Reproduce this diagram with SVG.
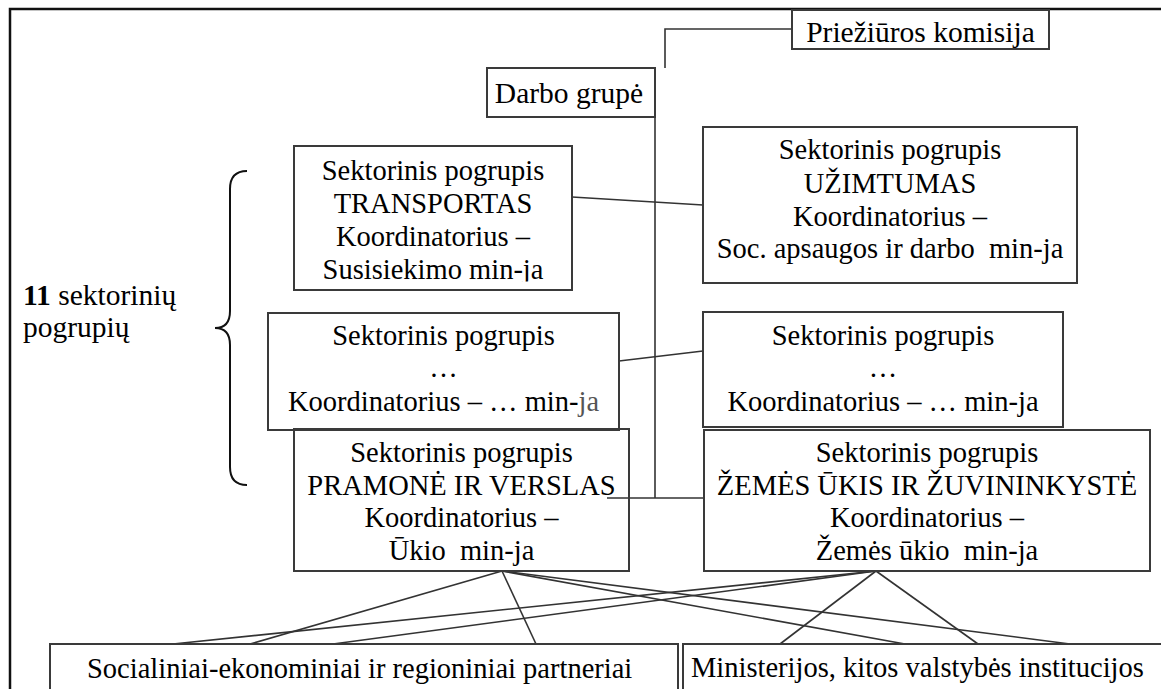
<svg xmlns="http://www.w3.org/2000/svg" width="1161" height="689" viewBox="0 0 1161 689">
<style>
.bx{fill:none;stroke:#3a3a3a;stroke-width:2}
.ln{fill:none;stroke:#333;stroke-width:1.6}
.t{font-family:"Liberation Serif","Times New Roman",serif;font-size:28.5px;fill:#000}
.big{font-size:29.5px}
.c{text-anchor:middle}
</style>
<defs>
<clipPath id="clipT"><rect x="294" y="146" width="278" height="135.5"/></clipPath>
</defs>
<rect width="1161" height="689" fill="#fff"/>
<path d="M10,689 V9 H1161" fill="none" stroke="#111" stroke-width="2.5"/>
<g id="connectors">
<polyline class="ln" points="792,29 665,29 665,68"/>
<polyline class="ln" points="655,117 655,498"/>
<line class="ln" x1="607" y1="498" x2="704" y2="498"/>
<line class="ln" x1="572" y1="197" x2="703" y2="205"/>
<line class="ln" x1="619" y1="361" x2="703" y2="351"/>
<line class="ln" x1="502" y1="571" x2="250" y2="644"/>
<line class="ln" x1="502" y1="571" x2="536" y2="644"/>
<line class="ln" x1="502" y1="571" x2="905" y2="644"/>
<line class="ln" x1="502" y1="571" x2="1070" y2="644"/>
<line class="ln" x1="876" y1="571" x2="173" y2="644"/>
<line class="ln" x1="876" y1="571" x2="333" y2="644"/>
<line class="ln" x1="876" y1="571" x2="780" y2="644"/>
<line class="ln" x1="876" y1="571" x2="978" y2="644"/>
</g>
<g id="prieziuros">
<rect class="bx" x="792" y="10" width="257" height="39"/>
<text class="t big c" x="920.5" y="42">Priežiūros komisija</text>
</g>
<g id="darbo">
<rect class="bx" x="487" y="68" width="168" height="49"/>
<text class="t big c" x="569" y="103">Darbo grupė</text>
</g>
<g id="label">
<text class="t big" x="23" y="305"><tspan font-weight="bold">11</tspan> sektorinių</text>
<text class="t big" x="23" y="337">pogrupių</text>
<path d="M247,171 C236,171 230,177 230,189 L230,311 C230,322 225,328 215,328 C225,328 230,334 230,345 L230,467 C230,479 236,485 247,485" fill="none" stroke="#111" stroke-width="2"/>
</g>
<g id="transportas">
<rect class="bx" x="294" y="146" width="278" height="144"/>
<text class="t c" x="433" y="180">Sektorinis pogrupis</text>
<text class="t c" x="433" y="213">TRANSPORTAS</text>
<text class="t c" x="433" y="246">Koordinatorius –</text>
<text class="t c" x="433" y="279" clip-path="url(#clipT)">Susisiekimo min-ja</text>
</g>
<g id="uzimtumas">
<rect class="bx" x="703" y="127" width="374" height="156"/>
<text class="t c" x="890" y="159">Sektorinis pogrupis</text>
<text class="t c" x="890" y="193">UŽIMTUMAS</text>
<text class="t c" x="890" y="226">Koordinatorius –</text>
<text class="t c" x="890" y="258" xml:space="preserve">Soc. apsaugos ir darbo  min-ja</text>
</g>
<g id="kitas-kairys">
<rect class="bx" x="268" y="313" width="351" height="117"/>
<text class="t c" x="443.5" y="345">Sektorinis pogrupis</text>
<text class="t c" x="443.5" y="377">…</text>
<text class="t c" x="443.5" y="411">Koordinatorius – … min-<tspan fill="#555">ja</tspan></text>
</g>
<g id="kitas-desinys">
<rect class="bx" x="703" y="312" width="360" height="115"/>
<text class="t c" x="883" y="345">Sektorinis pogrupis</text>
<text class="t c" x="883" y="377">…</text>
<text class="t c" x="883" y="411">Koordinatorius – … min-ja</text>
</g>
<g id="pramone">
<rect class="bx" x="294" y="429" width="335" height="142"/>
<text class="t c" x="461.5" y="462">Sektorinis pogrupis</text>
<text class="t c" x="461.5" y="494.5">PRAMONĖ IR VERSLAS</text>
<text class="t c" x="461.5" y="527">Koordinatorius –</text>
<text class="t c" x="461.5" y="559.5" xml:space="preserve">Ūkio  min-ja</text>
</g>
<g id="zemes-ukis">
<rect class="bx" x="704" y="430" width="446" height="141"/>
<text class="t c" x="927" y="462">Sektorinis pogrupis</text>
<text class="t c" x="927" y="494.5">ŽEMĖS ŪKIS IR ŽUVININKYSTĖ</text>
<text class="t c" x="927" y="527">Koordinatorius –</text>
<text class="t c" x="927" y="559.5" xml:space="preserve">Žemės ūkio  min-ja</text>
</g>
<g id="partneriai">
<rect class="bx" x="50" y="644" width="628" height="60"/>
<text class="t" x="87" y="678">Socialiniai-ekonominiai ir regioniniai partneriai</text>
</g>
<g id="ministerijos">
<rect class="bx" x="683" y="644" width="500" height="60"/>
<text class="t" x="691" y="677">Ministerijos, kitos valstybės institucijos</text>
</g>
</svg>
